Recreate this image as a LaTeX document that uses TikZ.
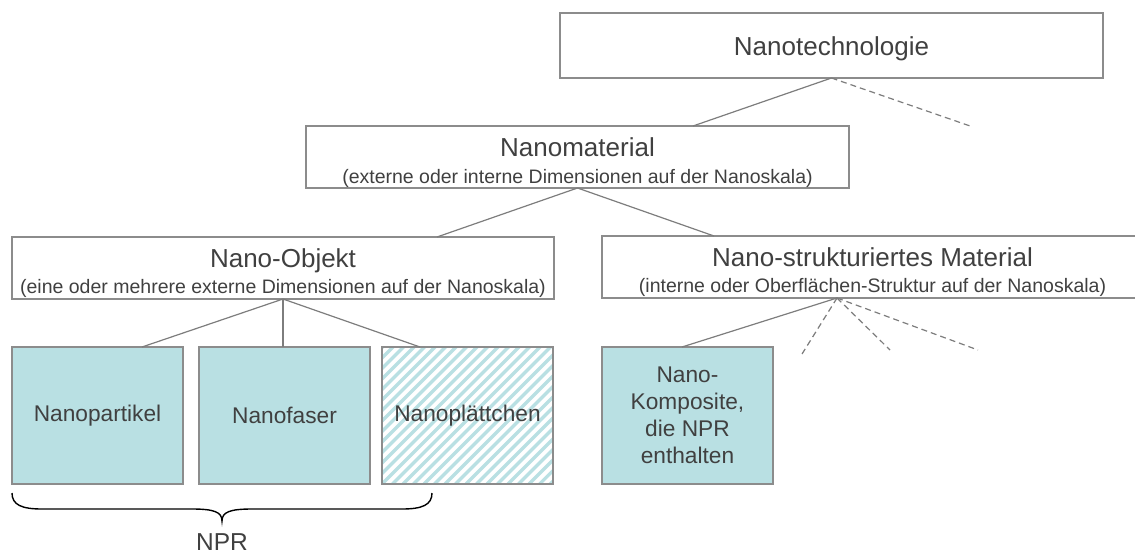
\documentclass[tikz,border=0pt]{standalone}
\usepackage{fontspec}
\setmainfont{Liberation Sans}
\usetikzlibrary{calc}
\definecolor{tealfill}{RGB}{185,224,227}
\definecolor{bordergray}{RGB}{140,140,140}
\definecolor{linegray}{RGB}{125,125,125}
\definecolor{txt}{RGB}{64,64,64}
\begin{document}
\begin{tikzpicture}[x=1pt,y=-1pt,
  box/.style={draw=bordergray, line width=1.3pt, inner sep=0pt, outer sep=0pt, rectangle},
  leaf/.style={box, fill=tealfill, minimum width=171pt, minimum height=137pt, text=txt,
    font=\fontsize{22.7}{27}\selectfont, align=center},
  title/.style={text=txt, font=\fontsize{26}{30}\selectfont, inner sep=0pt, anchor=base},
  sub/.style={text=txt, font=\fontsize{19.5}{23}\selectfont, inner sep=0pt, anchor=base},
  conn/.style={draw=linegray, line width=1.2pt},
  dconn/.style={conn, dash pattern=on 6pt off 4pt},
]
\useasboundingbox (0,0) rectangle (1135,554);

% top level
\node[box, minimum width=543pt, minimum height=65pt] (tech) at (831.5,45.5) {};
\node[title] (techT) at (831.5,55) {Nanotechnologie};

% Nanomaterial
\node[box, minimum width=543pt, minimum height=62pt] (mat) at (577.5,157) {};
\node[title] (matT) at (577.5,156.5) {Nanomaterial};
\node[sub] (matS) at (577.5,183) {(externe oder interne Dimensionen auf der Nanoskala)};

% Nano-Objekt
\node[box, minimum width=542pt, minimum height=62pt] (obj) at (283,268) {};
\node[title] (objT) at (283,267) {Nano-Objekt};
\node[sub] (objS) at (283,293.5) {(eine oder mehrere externe Dimensionen auf der Nanoskala)};

% Nano-strukturiertes Material
\node[box, minimum width=541pt, minimum height=62pt] (str) at (872.5,267) {};
\node[title] (strT) at (872.5,266) {Nano-strukturiertes Material};
\node[sub] (strS) at (872.5,292.5) {(interne oder Oberflächen-Struktur auf der Nanoskala)};

% leaves
\node[leaf] (part) at (97.5,415.5) {Nanopartikel};
\node[leaf] (fas) at (284.5,415.5) {Nanofaser};
\node[leaf, fill=white, path picture={
  \foreach \i in {-15,...,18}
    \draw[tealfill, line width=3.2pt]
      ($(path picture bounding box.south west)+(\i*10.5,0)$) -- ++(150,-150);
}] (pl) at (467.5,415.5) {Nanoplättchen};
\node[leaf] (komp) at (687.5,415.5) {\raisebox{-1.5pt}{\parbox{160pt}{\centering Nano-\\Komposite,\\die NPR\\enthalten}}};

% free ends of dashed lines
\coordinate (d1) at (973,127);
\coordinate (d2) at (802,354);
\coordinate (d3) at (890,350);
\coordinate (d4) at (978,350);

% connectors
\draw[conn] (tech.south) -- ($(mat.north)+(115.5,0)$);
\draw[dconn] (tech.south) -- (d1);
\draw[conn] (mat.south) -- ($(obj.north)+(154,0)$);
\draw[conn] (mat.south) -- ($(str.north)+(-158.5,0)$);
\draw[conn] (obj.south) -- ($(part.north)+(44.5,0)$);
\draw[conn] (obj.south) -- (obj.south |- fas.north);
\draw[conn] (obj.south) -- ($(pl.north)+(-47.5,0)$);
\coordinate (sj) at ($(str.south)+(-35.5,0)$);
\draw[conn] (sj) -- ($(komp.north)+(-5.5,0)$);
\draw[dconn] (sj) -- (d2);
\draw[dconn] (sj) -- (d3);
\draw[dconn] (sj) -- (d4);

% brace and NPR
\node[text=txt, font=\fontsize{24.5}{29}\selectfont, inner sep=0pt, anchor=base] (npr) at (222,550) {NPR};
\draw[black, line width=1.4pt]
  (12,493) .. controls (12,505) and (22,509) .. (42,509) -- (192,509)
  .. controls (214,509) and (222,512) .. (222,521)
  .. controls (222,512) and (230,509) .. (252,509) -- (402,509)
  .. controls (422,509) and (432,505) .. (432,493);
\end{tikzpicture}
\end{document}
